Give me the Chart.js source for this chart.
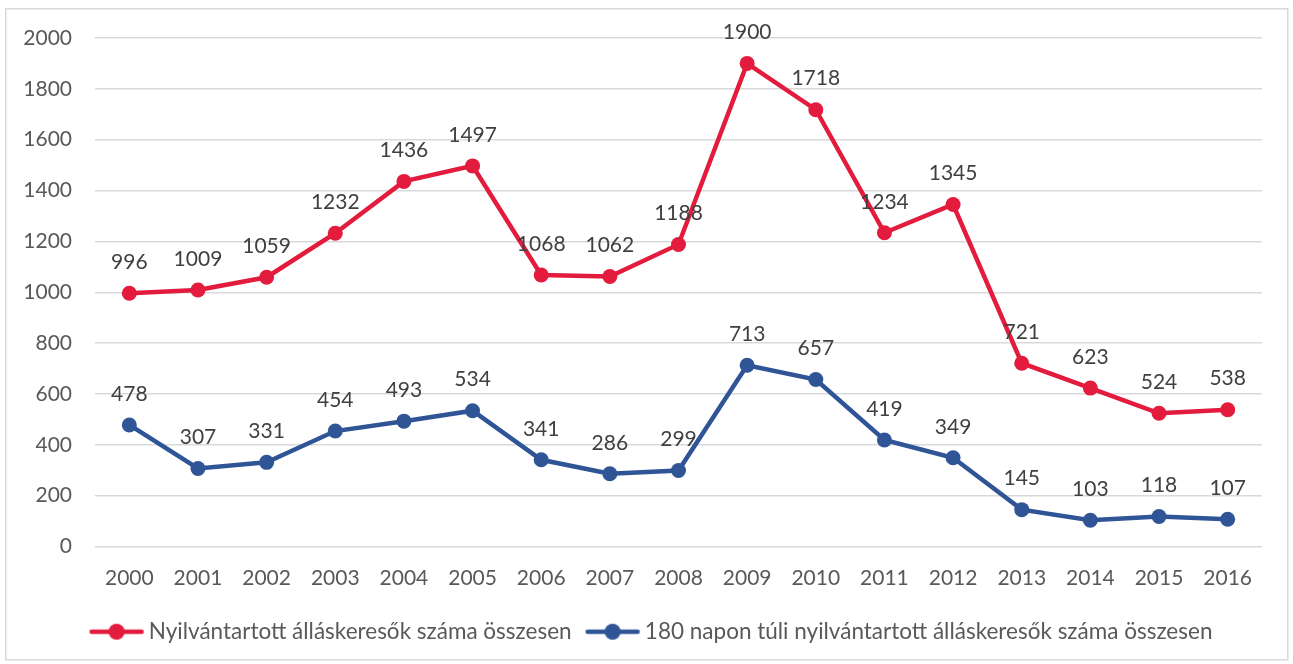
<!DOCTYPE html>
<html>
<head>
<meta charset="utf-8">
<script src="https://cdn.jsdelivr.net/npm/chart.js@4.4.1/dist/chart.umd.min.js"></script>
<style>
    html, body { margin: 0; padding: 0; background: #fff; }
    #wrap { position: absolute; left: 0; top: 0; width: 1293px; height: 664px; }
</style>
</head>
<body>
<div id="wrap"><canvas id="lineChart"></canvas></div>
<script>
// Adatok
var years = ['2000', '2001', '2002', '2003', '2004', '2005', '2006', '2007', '2008',
    '2009', '2010', '2011', '2012', '2013', '2014', '2015', '2016'];
var osszesen = [996, 1009, 1059, 1232, 1436, 1497, 1068, 1062, 1188, 1900, 1718, 1234, 1345, 721, 623, 524, 538];
var tartos = [478, 307, 331, 454, 493, 534, 341, 286, 299, 713, 657, 419, 349, 145, 103, 118, 107];
var seriesNames = ['Nyilvántartott álláskeresők száma összesen',
    '180 napon túli nyilvántartott álláskeresők száma összesen'];
var yTicks = [0, 200, 400, 600, 800, 1000, 1200, 1400, 1600, 1800, 2000];

var RED = '#E31B3D';
var BLUE = '#2F5597';
var FONT = 'Lato, "Liberation Sans", sans-serif';

// Jelmagyarázat ikon: vonal + kör
function legendIcon(color) {
    var c = document.createElement('canvas');
    c.width = 56;
    c.height = 18;
    var ctx = c.getContext('2d');
    ctx.strokeStyle = color;
    ctx.lineWidth = 4.5;
    ctx.lineCap = 'round';
    ctx.beginPath();
    ctx.moveTo(3, 9);
    ctx.lineTo(53, 9);
    ctx.stroke();
    ctx.fillStyle = color;
    ctx.beginPath();
    ctx.arc(28, 9, 8, 0, Math.PI * 2);
    ctx.fill();
    return c;
}

// Keret a diagram körül
var borderPlugin = {
    id: 'frame',
    beforeDraw: function (chart) {
        var ctx = chart.ctx;
        ctx.save();
        ctx.strokeStyle = '#D9D9D9';
        ctx.lineWidth = 1.5;
        ctx.strokeRect(5.75, 8.75, 1282, 651);
        ctx.restore();
    }
};

// Jelmagyarázat kicsit jobbra tolása (a teljes szélességhez igazítva)
var legendShift = {
    id: 'legendShift',
    afterLayout: function (chart) {
        if (chart.legend) {
            chart.legend.left += 23;
            chart.legend.right += 23;
        }
    }
};

// Értékcímkék a pontok fölött
var labelPlugin = {
    id: 'valueLabels',
    afterDatasetsDraw: function (chart) {
        var ctx = chart.ctx;
        ctx.save();
        ctx.font = '21px ' + FONT;
        ctx.fillStyle = '#404040';
        ctx.textAlign = 'center';
        ctx.textBaseline = 'middle';
        chart.data.datasets.forEach(function (ds, i) {
            chart.getDatasetMeta(i).data.forEach(function (pt, j) {
                ctx.fillText(String(ds.data[j]), pt.x, pt.y - 31);
            });
        });
        ctx.restore();
    }
};

new Chart(document.getElementById('lineChart'), {
    type: 'line',
    data: {
        labels: years,
        datasets: [{
                label: seriesNames[0],
                data: osszesen,
                borderColor: RED,
                backgroundColor: RED,
                borderWidth: 4.5,
                pointRadius: 7.5,
                pointHoverRadius: 7.5,
                pointBackgroundColor: RED,
                pointBorderWidth: 0,
                pointStyle: 'circle',
                tension: 0
            }, {
                label: seriesNames[1],
                data: tartos,
                borderColor: BLUE,
                backgroundColor: BLUE,
                borderWidth: 4.5,
                pointRadius: 7.5,
                pointHoverRadius: 7.5,
                pointBackgroundColor: BLUE,
                pointBorderWidth: 0,
                pointStyle: 'circle',
                tension: 0
            }]
    },
    options: {
        responsive: true,
        maintainAspectRatio: false,
        animation: false,
        layout: {
            padding: {left: 0, right: 31, top: 38, bottom: 11}
        },
        plugins: {
            tooltip: {enabled: false},
            legend: {
                position: 'bottom',
                labels: {
                    usePointStyle: true,
                    pointStyleWidth: 42,
                    padding: 20,
                    color: '#595959',
                    font: {family: FONT, size: 22.5},
                    generateLabels: function (chart) {
                        return chart.data.datasets.map(function (ds, i) {
                            return {
                                text: ds.label,
                                fillStyle: ds.borderColor,
                                strokeStyle: ds.borderColor,
                                lineWidth: 0,
                                pointStyle: legendIcon(ds.borderColor),
                                fontColor: '#595959',
                                hidden: false,
                                datasetIndex: i
                            };
                        });
                    }
                }
            }
        },
        scales: {
            x: {
                offset: true,
                grid: {display: false, drawTicks: false},
                border: {display: false},
                ticks: {
                    color: '#595959',
                    padding: 19,
                    maxRotation: 0,
                    font: {family: FONT, size: 21}
                },
                afterFit: function (scale) {
                    scale.height = 54;
                }
            },
            y: {
                min: 0,
                max: 2000,
                afterBuildTicks: function (scale) {
                    scale.ticks = yTicks.map(function (v) { return {value: v}; });
                },
                grid: {color: '#D9D9D9', lineWidth: 1.5, drawTicks: false},
                border: {display: false},
                ticks: {
                    color: '#595959',
                    padding: 23,
                    font: {family: FONT, size: 21},
                    callback: function (value) {
                        return String(value);
                    }
                },
                afterFit: function (scale) {
                    scale.width = 95;
                }
            }
        }
    },
    plugins: [borderPlugin, legendShift, labelPlugin]
});
</script>
</body>
</html>
